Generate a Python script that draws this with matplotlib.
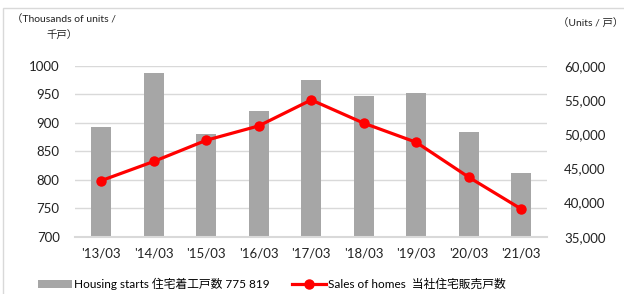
import matplotlib.pyplot as plt
import matplotlib.patches as mpatches
import numpy as np

plt.rcParams['font.family'] = ['Lato', 'Noto Sans CJK JP', 'DejaVu Sans']

years = ["'13/03", "'14/03", "'15/03", "'16/03", "'17/03", "'18/03", "'19/03", "'20/03", "'21/03"]
housing_starts = [893, 987, 880, 921, 975, 947, 952, 883, 812]
sales_homes = [43200, 46000, 49100, 51200, 55000, 51600, 48800, 43700, 39050]

x = np.arange(len(years))

fig = plt.figure(figsize=(6.24, 2.94), dpi=100)
ax = fig.add_axes([0.1202, 0.1949, 0.7572, 0.5816])

bars = ax.bar(x, housing_starts, 0.39, color='#a6a6a6', zorder=2,
              label='Housing starts 住宅着工戸数 775 819')
ax.set_ylim(700, 1000)
ax.set_yticks(np.arange(700, 1001, 50))
ax.set_xlim(-0.5, len(years) - 0.5)
ax.set_xticks(x)
ax.set_xticklabels(years)
ax.grid(axis='y', color='#d9d9d9', lw=1, zorder=0)
for s in ['top', 'left', 'right']:
    ax.spines[s].set_visible(False)
ax.spines['bottom'].set_color('#d9d9d9')
ax.spines['bottom'].set_linewidth(1.5)
ax.tick_params(axis='both', length=0, labelsize=9.5, colors='#222222')
ax.tick_params(axis='y', pad=11)
ax.tick_params(axis='x', pad=8)

ax2 = ax.twinx()
line, = ax2.plot(x, sales_homes, color='#ff0000', lw=2.3, marker='o', ms=6.5,
                 zorder=3, label='Sales of homes  当社住宅販売戸数')
ax2.set_ylim(35000, 60000)
ax2.set_yticks(np.arange(35000, 60001, 5000))
ax2.set_yticklabels([f'{v:,}' for v in range(35000, 60001, 5000)])
for s in ax2.spines.values():
    s.set_visible(False)
ax2.tick_params(axis='y', length=0, labelsize=9.5, colors='#222222', pad=12)

fig.text(0.019, 0.935, '（Thousands of units /', fontsize=7.5, va='center', color='#222222')
fig.text(0.075, 0.878, '千戸）', fontsize=7.5, va='center', color='#222222')
fig.text(0.999, 0.92, '（Units / 戸）', fontsize=7.5, va='center', ha='right', color='#222222')

fig.patches.append(mpatches.Rectangle((0.005, -0.01), 1.1, 0.983, transform=fig.transFigure,
                                      fill=False, edgecolor='#d9d9d9', lw=1))

fig.legend(handles=[bars, line], loc='center', bbox_to_anchor=(0.435, 0.035), ncol=2,
           frameon=False, fontsize=8.5, handlelength=2.9, handletextpad=0.15,
           columnspacing=1.9, borderaxespad=0)

fig.savefig('out.png', dpi=100)
